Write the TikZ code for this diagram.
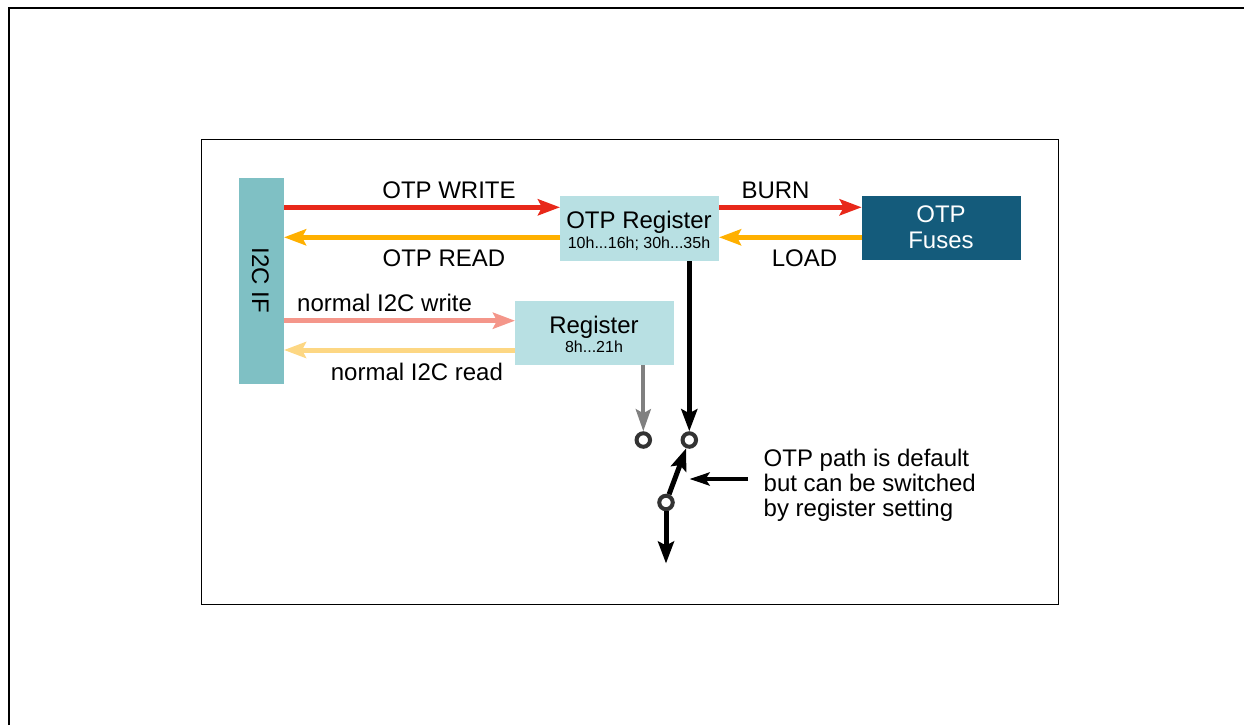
\documentclass[tikz,border=0pt]{standalone}
\usepackage{fontspec}
\setmainfont{Liberation Sans}
\usetikzlibrary{arrows.meta}
\definecolor{i2cteal}{HTML}{7FC0C4}
\definecolor{lightbox}{HTML}{B8E0E3}
\definecolor{darkbox}{HTML}{145B7B}
\definecolor{otpred}{HTML}{E8281A}
\definecolor{otporange}{HTML}{FFB000}
\definecolor{salmon}{HTML}{F4968A}
\definecolor{paleyellow}{HTML}{FDD783}
\definecolor{midgray}{HTML}{808080}
\definecolor{ringgray}{HTML}{333333}
\begin{document}
\begin{tikzpicture}[x=1pt,y=-1pt,
  box/.style={draw=none,inner sep=0pt,outer sep=0pt},
  big/.style={font=\fontsize{24}{26}\selectfont,inner sep=0pt},
  small/.style={font=\fontsize{16}{18}\selectfont,inner sep=0pt},
  arr/.style={line width=5pt,-{Stealth[length=22pt,width=16pt,inset=4pt]}},
  blk/.style={line width=5pt,black,-{Stealth[length=22pt,width=16pt,inset=4pt]}},
  ring/.style={circle,draw=ringgray,line width=4pt,fill=white,minimum size=13.5pt,inner sep=0pt}
]
\useasboundingbox (0,0) rectangle (1244,725);
% frames
\draw[line width=2.3pt] (9,725) -- (9,8) -- (1244,8);
\draw[line width=1pt] (201,139) rectangle (1058,604);

% boxes
\node[box,fill=i2cteal,minimum width=45pt,minimum height=206pt] (i2c) at (261.5,280.5) {};
\node[big,rotate=-90] (i2clabel) at (260.5,280.5) {I2C IF};
\node[box,fill=lightbox,minimum width=159pt,minimum height=65pt] (otpreg) at (639.5,228.5) {};
\node[big,anchor=base] (otpregt) at (639,228.5) {OTP Register};
\node[small,anchor=base] (otprega) at (639,248.5) {10h...16h; 30h...35h};
\node[box,fill=darkbox,minimum width=159pt,minimum height=64pt] (fuses) at (941.2,228.3) {};
\node[big,anchor=base,text=white] (fusest1) at (941,222) {OTP};
\node[big,anchor=base,text=white] (fusest2) at (941,248.5) {Fuses};
\node[box,fill=lightbox,minimum width=159pt,minimum height=64pt] (reg) at (594.5,333) {};
\node[big,anchor=base] (regt) at (594,333) {Register};
\node[small,anchor=base] (rega) at (594,352) {8h...21h};

% horizontal arrows
\draw[arr,otpred] (i2c.east |- 0,207.3) -- (otpreg.west |- 0,207.3);
\draw[arr,otporange] (otpreg.west |- 0,237.3) -- (i2c.east |- 0,237.3);
\draw[arr,otpred] (otpreg.east |- 0,207.3) -- (fuses.west |- 0,207.3);
\draw[arr,otporange] (fuses.west |- 0,237.3) -- (otpreg.east |- 0,237.3);
\draw[arr,salmon] (i2c.east |- 0,320.7) -- (reg.west |- 0,320.7);
\draw[arr,paleyellow] (reg.west |- 0,350) -- (i2c.east |- 0,350);

% labels
\node[big,anchor=base] (lw) at (449,198.3) {OTP WRITE};
\node[big,anchor=base] (lr) at (444,266.7) {OTP READ};
\node[big,anchor=base] (lb) at (775.5,198.3) {BURN};
\node[big,anchor=base] (ll) at (804.5,266.5) {LOAD};
\node[big,anchor=base west] (lnw) at (297,311.7) {normal I2C write};
\node[big,anchor=base west] (lnr) at (330.7,380) {normal I2C read};

% switch
\node[ring] (c1) at (643.3,440) {};
\node[ring] (c2) at (689.3,440) {};
\node[ring] (c3) at (666,502.5) {};
\coordinate (out) at (666,563.5);
\draw[line width=4pt,midgray,-{Stealth[length=22pt,width=15pt,inset=4pt]}] (reg.south -| c1) -- (c1);
\draw[blk] (otpreg.south -| c2) -- (c2);
\draw[blk] (c3) -- (c2);
\draw[blk] (c3) -- (out);

% note
\node[big,anchor=base west,align=left,font=\fontsize{24}{25}\selectfont] (note) at (763.5,516) {OTP path is default\\but can be switched\\by register setting};
\coordinate (notetip) at (689.5,479);
\draw[line width=4pt,black,-{Stealth[length=20pt,width=13pt,inset=4pt]}] (748,479) coordinate (notestart) -- (notetip);
\end{tikzpicture}
\end{document}
